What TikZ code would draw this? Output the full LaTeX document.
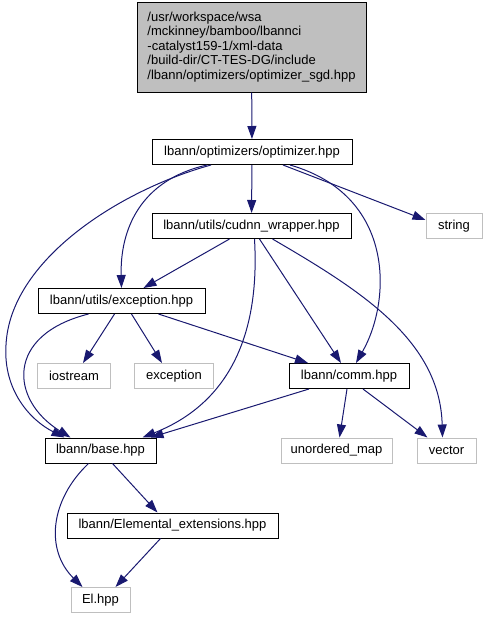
\documentclass[tikz,border=0pt]{standalone}
\usepackage{fontspec}
\setmainfont{Liberation Sans}
\usetikzlibrary{arrows.meta}
\definecolor{edgeblue}{HTML}{191970}
\definecolor{graybd}{HTML}{BFBFBF}
\begin{document}
\begin{tikzpicture}[x=1pt,y=-1pt,
  box/.style={draw=black,line width=1pt,minimum height=25pt,inner sep=0pt,
    font=\fontsize{13}{14.5}\selectfont},
  sysbox/.style={box,draw=graybd},
  topbox/.style={box,fill=graybd,draw=black,align=left},
  edge/.style={draw=edgeblue,line width=1pt,-{Triangle[length=13pt,width=9pt]}}]
\useasboundingbox (0,0) rectangle (486,619);
\node[topbox,minimum width=229pt,minimum height=90pt] (top) at (251.5,47)
  {/usr/workspace/wsa\\/mckinney/bamboo/lbannci\\-catalyst159-1/xml-data\\/build-dir/CT-TES-DG/include\\/lbann/optimizers/optimizer\_sgd.hpp};
\node[box,minimum width=200pt] (opt) at (252,152) {lbann/optimizers/optimizer.hpp};
\node[box,minimum width=199pt] (cud) at (251.5,226) {lbann/utils/cudnn\_wrapper.hpp};
\node[sysbox,minimum width=56pt] (str) at (454,226) {string};
\node[box,minimum width=167pt] (exc) at (121.5,301) {lbann/utils/exception.hpp};
\node[sysbox,minimum width=73pt] (ios) at (74,376) {iostream};
\node[sysbox,minimum width=79pt] (sexc) at (174,376) {exception};
\node[box,minimum width=120pt] (comm) at (349,376) {lbann/comm.hpp};
\node[box,minimum width=111pt] (base) at (100.5,450.5) {lbann/base.hpp};
\node[sysbox,minimum width=111pt] (umap) at (336.5,450.5) {unordered\_map};
\node[sysbox,minimum width=59pt] (vec) at (446.5,450.5) {vector};
\node[box,minimum width=211pt] (elx) at (172.5,525.5) {lbann/Elemental\_extensions.hpp};
\node[sysbox,minimum width=59pt] (el) at (100.5,600) {El.hpp};

\draw[edge] (top) -- (opt);
\draw[edge] (opt) -- (cud);
\draw[edge] ([xshift=31pt]opt.south) -- ([yshift=6pt]str.west);
\draw[edge] ([xshift=-45pt]opt.south) .. controls (140,180) and (120,230) .. (exc.north);
\draw[edge] ([xshift=-41pt]opt.south) .. controls (120,190) and (10,260) .. (6,345)
   .. controls (3,390) and (30,420) .. ([xshift=-36pt]base.north);
\draw[edge] ([xshift=38pt]opt.south) .. controls (395,195) and (392,300) .. ([xshift=7pt]comm.north);
\draw[edge] ([xshift=-22pt]cud.south) -- ([xshift=22pt]exc.north);
\draw[edge] ([xshift=8pt]cud.south) -- ([xshift=-8pt]comm.north);
\draw[edge] ([xshift=3pt]cud.south) .. controls (258,300) and (250,395) .. ([xshift=42pt]base.north);
\draw[edge] ([xshift=21pt]cud.south) .. controls (360,290) and (440,340) .. ([xshift=-4pt]vec.north);
\draw[edge] ([xshift=-7pt]exc.south) -- ([xshift=9pt]ios.north);
\draw[edge] ([xshift=10pt]exc.south) -- ([xshift=-12pt]sexc.north);
\draw[edge] ([xshift=37pt]exc.south) -- ([xshift=-41pt]comm.north);
\draw[edge] ([xshift=-33pt]exc.south) .. controls (5,335) and (10,400) .. ([xshift=-30pt]base.north);
\draw[edge] ([xshift=-40pt]comm.south) -- ([xshift=50pt]base.north);
\draw[edge] ([xshift=-2pt]comm.south) -- ([xshift=3pt]umap.north);
\draw[edge] ([xshift=14pt]comm.south) -- ([xshift=-19pt]vec.north);
\draw[edge] ([xshift=12pt]base.south) -- ([xshift=-15pt]elx.north);
\draw[edge] ([xshift=-12pt]base.south) .. controls (50,500) and (45,550) .. ([xshift=-18pt]el.north);
\draw[edge] ([xshift=-12pt]elx.south) -- ([xshift=15pt]el.north);
\end{tikzpicture}
\end{document}
